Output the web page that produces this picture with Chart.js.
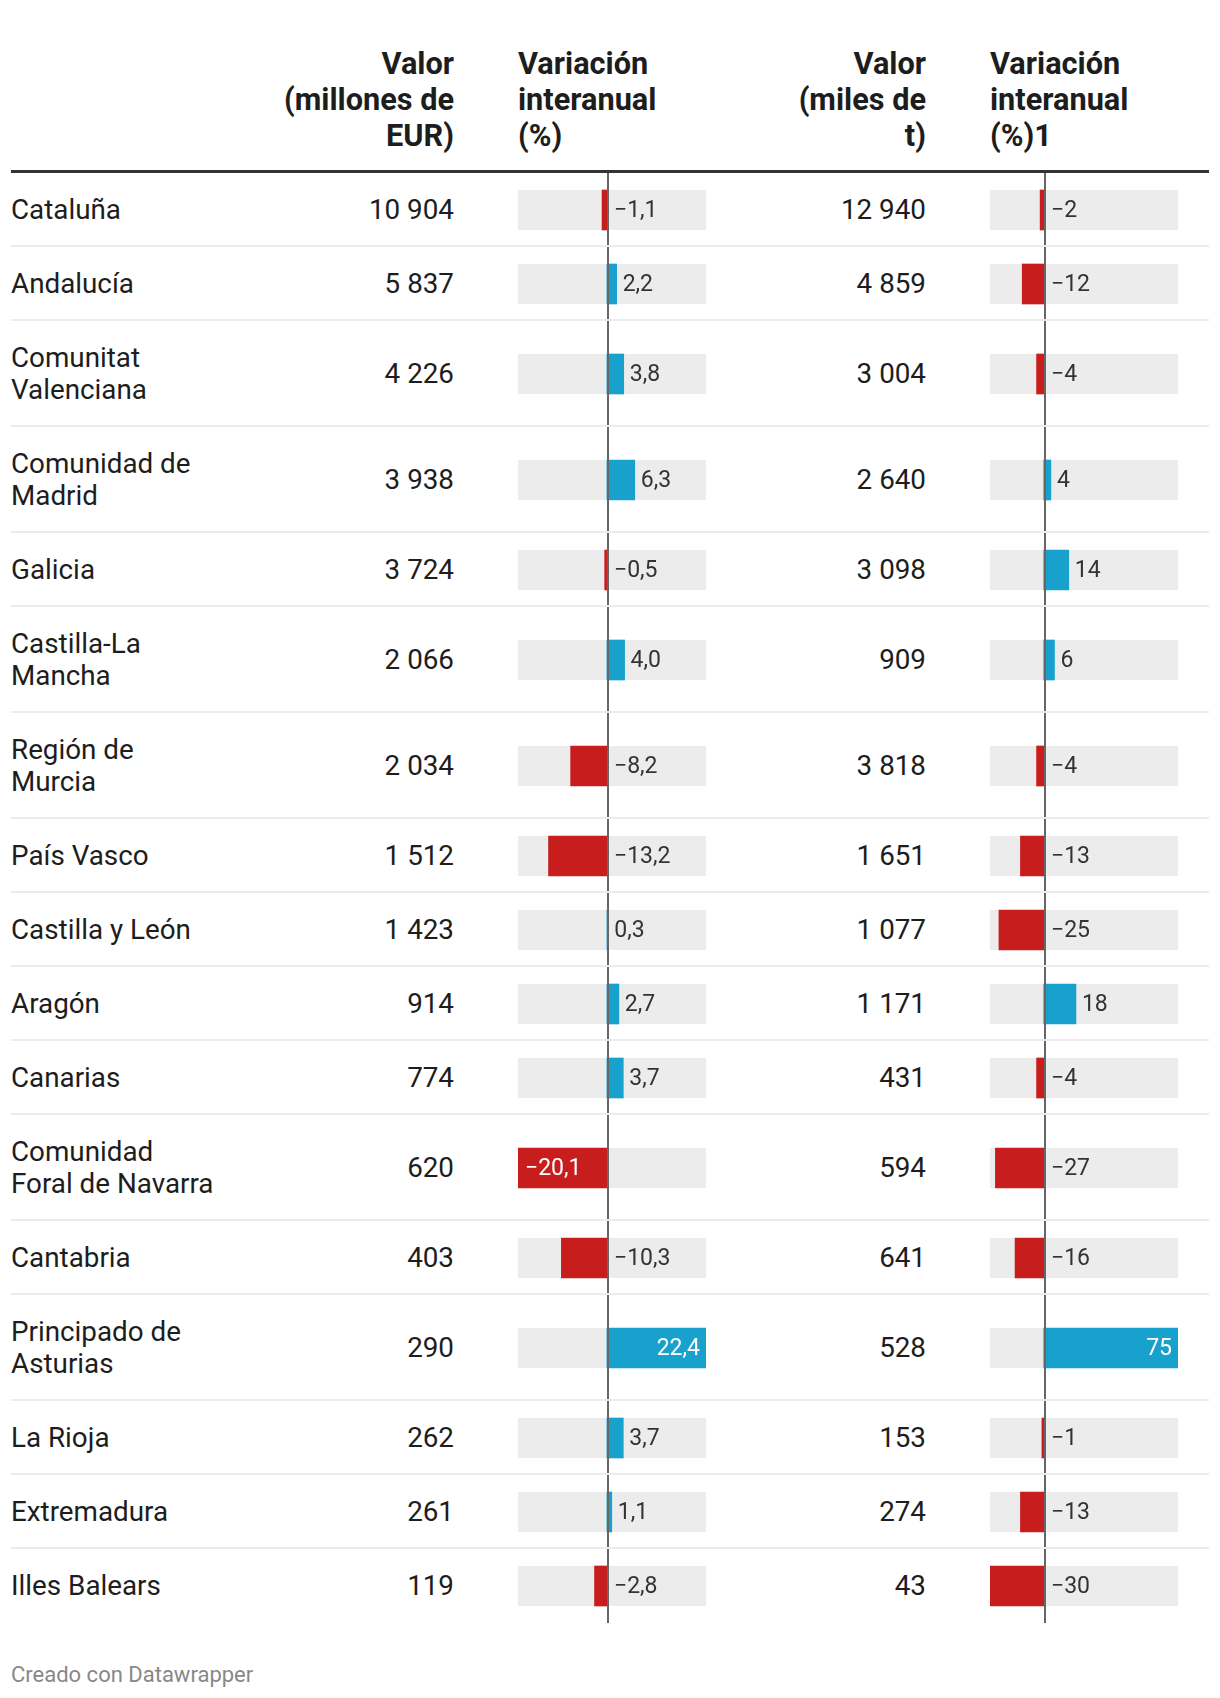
<!DOCTYPE html>
<html lang="es">
<head>
<meta charset="utf-8">
<title>Comercio por comunidad autónoma</title>
<script src="https://cdn.jsdelivr.net/npm/chart.js@4.4.1/dist/chart.umd.min.js"></script>
<style>
  html, body { margin: 0; padding: 0; background: #fff; }
  body {
    width: 1220px; height: 1698px; position: relative; overflow: hidden;
    font-family: Roboto, "Noto Sans", sans-serif; color: #1d1d1d;
  }
  .head { position: absolute; top: 46px; font-weight: 700; font-size: 30.7px; line-height: 36px; white-space: nowrap; }
  .head.right { text-align: right; }
  .rule { position: absolute; left: 11px; width: 1198px; top: 170px; height: 3px; background: #333; }
  #rows { position: absolute; left: 11px; top: 173px; width: 1198px; }
  .row { position: relative; }
  .sep { position: absolute; left: 0; right: 0; bottom: 0; height: 2px; background: #ececec; z-index: 2; }
  .label, .num {
    position: absolute; top: 50%; transform: translateY(-50%);
    font-size: 27.8px; line-height: 32px; white-space: nowrap;
  }
  .label { left: 0; }
  .num { left: 0; text-align: right; }
  .cell { position: absolute; top: 0; }
  .cell canvas { display: block; }
  .foot { position: absolute; left: 11px; top: 1661px; font-size: 22px; line-height: 28px; color: #888; }
</style>
</head>
<body>

<div class="head right" style="left:0; width:454px;">Valor<br>(millones de<br>EUR)</div>
<div class="head" style="left:518px;">Variación<br>interanual<br>(%)</div>
<div class="head right" style="left:0; width:926px;">Valor<br>(miles de<br>t)</div>
<div class="head" style="left:990px;">Variación<br>interanual<br>(%)1</div>
<div class="rule"></div>

<div id="rows"></div>

<div class="foot">Creado con Datawrapper</div>

<script>
// Comunidades autónomas (multi-line labels as in the reference)
const regions = [
    ['Cataluña'],
    ['Andalucía'],
    ['Comunitat', 'Valenciana'],
    ['Comunidad de', 'Madrid'],
    ['Galicia'],
    ['Castilla-La', 'Mancha'],
    ['Región de', 'Murcia'],
    ['País Vasco'],
    ['Castilla y León'],
    ['Aragón'],
    ['Canarias'],
    ['Comunidad', 'Foral de Navarra'],
    ['Cantabria'],
    ['Principado de', 'Asturias'],
    ['La Rioja'],
    ['Extremadura'],
    ['Illes Balears']
];

// Valor (millones de EUR)
const valueEur = [10904, 5837, 4226, 3938, 3724, 2066, 2034, 1512, 1423, 914, 774, 620, 403, 290, 262, 261, 119];
// Variación interanual (%) del valor
const changeEur = [-1.1, 2.2, 3.8, 6.3, -0.5, 4.0, -8.2, -13.2, 0.3, 2.7, 3.7, -20.1, -10.3, 22.4, 3.7, 1.1, -2.8];
// Valor (miles de t)
const valueTons = [12940, 4859, 3004, 2640, 3098, 909, 3818, 1651, 1077, 1171, 431, 594, 641, 528, 153, 274, 43];
// Variación interanual (%) de las toneladas
const changeTons = [-2, -12, -4, 4, 14, 6, -4, -13, -25, 18, -4, -27, -16, 75, -1, -13, -30];

const RED = '#c71e1d';
const BLUE = '#18a1cd';
const TRACK = '#ececec';

/**
 * Format an integer with a space as thousands separator
 */
function formatThousands(n) {
    return String(n).replace(/\B(?=(\d{3})+(?!\d))/g, ' ');
}

/**
 * Format a percentage change with comma decimals and a real minus sign
 */
function formatChange(v, decimals) {
    const s = Math.abs(v).toFixed(decimals).replace('.', ',');
    return (v < 0 ? '\u2212' : '') + s;
}

/**
 * Plugin: grey track behind the bar, zero line and value label
 */
const cellPlugin = {
    id: 'cell',
    beforeDatasetsDraw(chart) {
        const { ctx, chartArea } = chart;
        const bar = chart.getDatasetMeta(0).data[0];
        ctx.save();
        ctx.fillStyle = TRACK;
        ctx.fillRect(chartArea.left, bar.y - bar.height / 2, chartArea.width, bar.height);
        ctx.restore();
    },
    afterDatasetsDraw(chart, args, opts) {
        const { ctx, chartArea } = chart;
        const x = chart.scales.x;
        const bar = chart.getDatasetMeta(0).data[0];
        const v = chart.data.datasets[0].data[0];
        const zero = x.getPixelForValue(0);
        const end = x.getPixelForValue(v);

        ctx.save();
        // Zero line over the whole cell height, sitting just right of zero
        ctx.strokeStyle = '#666';
        ctx.lineWidth = 2;
        const lx = Math.round(zero) + 1;
        ctx.beginPath();
        ctx.moveTo(lx, 0);
        ctx.lineTo(lx, chart.height);
        ctx.stroke();

        // Value label: inside wide bars, otherwise right of the zero line / bar end
        ctx.font = '23px Roboto, "Noto Sans", sans-serif';
        ctx.textBaseline = 'middle';
        const inside = Math.abs(end - zero) > chartArea.width * 0.4;
        if (inside) {
            ctx.fillStyle = '#fff';
            if (v < 0) {
                ctx.textAlign = 'left';
                ctx.fillText(opts.text, end + 7, bar.y + 1);
            } else {
                ctx.textAlign = 'right';
                ctx.fillText(opts.text, end - 6, bar.y + 1);
            }
        } else {
            ctx.fillStyle = '#333';
            ctx.textAlign = 'left';
            ctx.fillText(opts.text, Math.max(lx, end) + 6, bar.y + 1);
        }
        ctx.restore();
    }
};

/**
 * Draw one small horizontal bar chart inside a table cell
 */
function drawCell(container, label, value, min, max, text, height) {
    const canvas = document.createElement('canvas');
    canvas.width = 188;
    canvas.height = height;
    canvas.style.width = '188px';
    canvas.style.height = height + 'px';
    container.appendChild(canvas);

    new Chart(canvas.getContext('2d'), {
        type: 'bar',
        data: {
            labels: [label.join(' ')],
            datasets: [{
                data: [value],
                backgroundColor: value < 0 ? RED : BLUE,
                borderWidth: 0,
                barThickness: 40
            }]
        },
        options: {
            indexAxis: 'y',
            responsive: false,
            animation: false,
            events: [],
            layout: { padding: 0 },
            plugins: {
                legend: { display: false },
                tooltip: { enabled: false },
                cell: { text: text }
            },
            scales: {
                x: { display: false, min: min, max: max },
                y: { display: false }
            }
        },
        plugins: [cellPlugin]
    });
}

document.addEventListener('DOMContentLoaded', function() {
    const rows = document.getElementById('rows');
    const eurMin = Math.min(...changeEur), eurMax = Math.max(...changeEur);
    const tMin = Math.min(...changeTons), tMax = Math.max(...changeTons);

    regions.forEach((name, i) => {
        const isLast = i === regions.length - 1;
        const total = name.length > 1 ? 106 : 74;

        const row = document.createElement('div');
        row.className = 'row';
        row.style.height = total + 'px';

        const label = document.createElement('div');
        label.className = 'label';
        label.innerHTML = name.join('<br>');
        row.appendChild(label);

        const n1 = document.createElement('div');
        n1.className = 'num';
        n1.style.width = '443px';
        n1.textContent = formatThousands(valueEur[i]);
        row.appendChild(n1);

        const n2 = document.createElement('div');
        n2.className = 'num';
        n2.style.width = '915px';
        n2.textContent = formatThousands(valueTons[i]);
        row.appendChild(n2);

        const c1 = document.createElement('div');
        c1.className = 'cell';
        c1.style.left = '507px';
        row.appendChild(c1);

        const c2 = document.createElement('div');
        c2.className = 'cell';
        c2.style.left = '979px';
        row.appendChild(c2);

        if (!isLast) {
            const sep = document.createElement('div');
            sep.className = 'sep';
            row.appendChild(sep);
        }

        rows.appendChild(row);

        drawCell(c1, name, changeEur[i], eurMin, eurMax, formatChange(changeEur[i], 1), total);
        drawCell(c2, name, changeTons[i], tMin, tMax, formatChange(changeTons[i], 0), total);
    });
});
</script>
</body>
</html>
